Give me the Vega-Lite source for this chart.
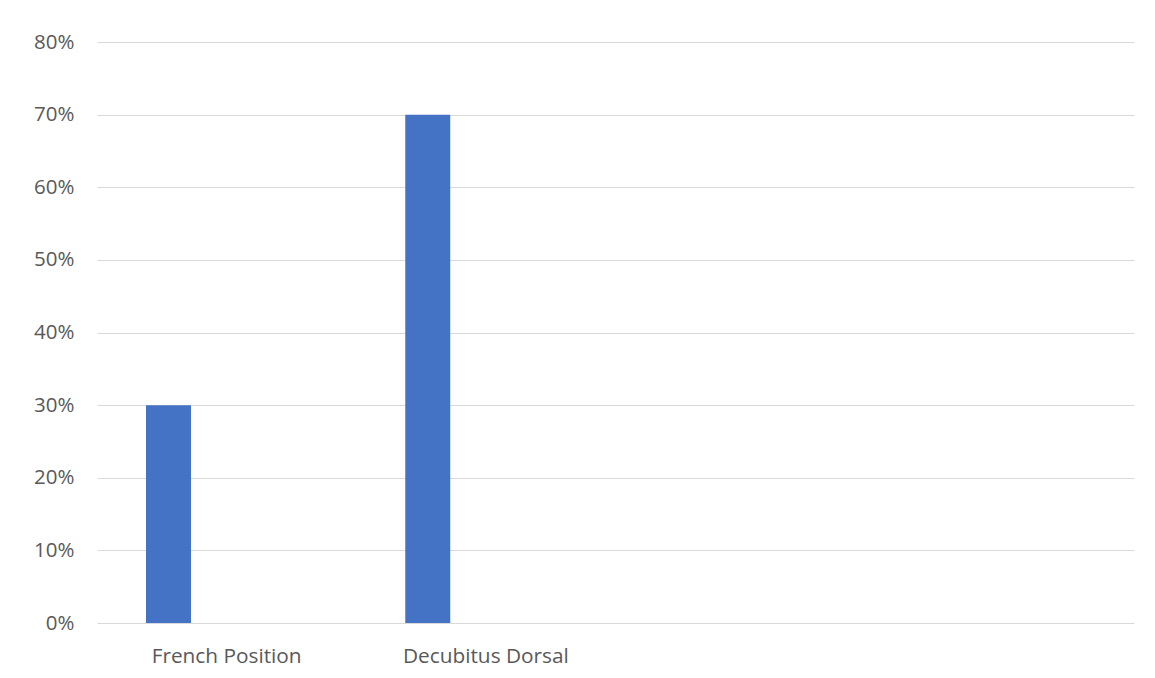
{
  "$schema": "https://vega.github.io/schema/vega-lite/v6.json",
  "autosize": {"type": "none"},
  "width": 1037,
  "height": 581,
  "padding": {"left": 97, "top": 42, "right": 21, "bottom": 55},
  "background": "white",
  "data": {
    "values": [
      {"position": "French Position", "series": "S1", "share": 0.3},
      {"position": "Decubitus Dorsal", "series": "S1", "share": 0.7}
    ]
  },
  "mark": {"type": "bar", "color": "#4472C4"},
  "encoding": {
    "x": {
      "field": "position",
      "type": "nominal",
      "sort": null,
      "scale": {"domain": ["French Position", "Decubitus Dorsal", "c3", "c4"], "paddingInner": 0, "paddingOuter": 0},
      "axis": {
        "title": null,
        "domain": false,
        "ticks": false,
        "labelAngle": 0,
        "labelExpr": "datum.value == 'c3' || datum.value == 'c4' ? '' : datum.value",
        "labelFont": "Open Sans",
        "labelFontSize": 20.8,
        "labelColor": "#595959",
        "labelPadding": 23
      }
    },
    "xOffset": {
      "field": "series",
      "type": "nominal",
      "scale": {"domain": ["S1", "S2"], "paddingInner": 0.613, "paddingOuter": 0.4215}
    },
    "y": {
      "field": "share",
      "type": "quantitative",
      "scale": {"domain": [0, 0.8], "nice": false},
      "axis": {
        "title": null,
        "format": ".0%",
        "values": [0, 0.1, 0.2, 0.3, 0.4, 0.5, 0.6, 0.7, 0.8],
        "domain": false,
        "ticks": false,
        "grid": true,
        "gridColor": "#d9d9d9",
        "gridWidth": 1,
        "labelFont": "Open Sans",
        "labelFontSize": 20.5,
        "labelColor": "#595959",
        "labelPadding": 23
      }
    }
  },
  "config": {"view": {"stroke": null}}
}
